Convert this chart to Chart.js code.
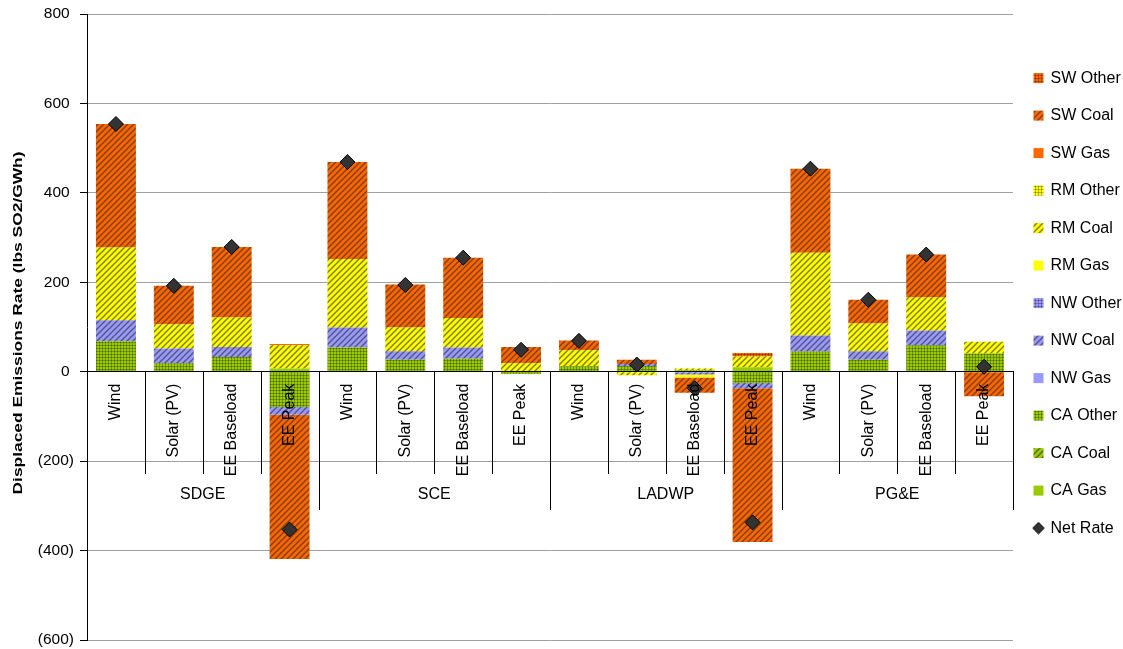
<!DOCTYPE html>
<html>
<head>
<meta charset="utf-8">
<title>Displaced Emissions Rate</title>
<script src="https://cdn.jsdelivr.net/npm/chart.js@4.4.1/dist/chart.umd.min.js"></script>
<style>
  html, body { margin: 0; padding: 0; background: #fff; }
  #wrap { width: 1123px; height: 649px; }
</style>
</head>
<body>
<div id="wrap"><canvas id="chart" width="1123" height="649"></canvas></div>
<script>
// Technology categories, repeated for each utility
const categories = [
  'Wind', 'Solar (PV)', 'EE Baseload', 'EE Peak',
  'Wind', 'Solar (PV)', 'EE Baseload', 'EE Peak',
  'Wind', 'Solar (PV)', 'EE Baseload', 'EE Peak',
  'Wind', 'Solar (PV)', 'EE Baseload', 'EE Peak'
];
const utilities = ['SDGE', 'SCE', 'LADWP', 'PG&E'];

// Displaced SO2 by region and fuel (lbs SO2/GWh)
const caGas   = [0, 0, 0, 7,    0, 0, 0, 0,    0, 0, 0, 10,    0, 0, 0, 0];
const caCoal  = [0, 0, 0, 0,    0, 0, 0, 0,    0, 0, 0, 0,     0, 0, 0, 0];
const caOther = [68, 19, 33, -79,  54, 27, 29, -5,  12, 13, 3, -25,  45, 27, 59, 41];
const nwGas   = [0, 0, 0, 0,    0, 0, 0, 0,    0, 0, 0, 0,     0, 0, 0, 0];
const nwCoal  = [47, 33, 22, -17,  45, 19, 25, 0,  0, 4, -6, -12,  36, 19, 33, 0];
const nwOther = [0, 0, 0, 0,    0, 0, 0, 0,    0, 0, 0, 0,     0, 0, 0, 0];
const rmGas   = [0, 0, 0, 0,    0, 0, 0, 0,    0, 0, -7, 0,    0, 0, 0, 0];
const rmCoal  = [163, 54, 66, 52,  153, 53, 66, 19,  36, -8, 4, 24,  185, 62, 74, 26];
const rmOther = [0, 0, 0, 0,    0, 0, 0, 0,    0, 0, 0, 0,     0, 0, 0, 0];
const swGas   = [0, 0, 0, 3,    0, 0, 0, 0,    0, 0, 0, 0,     0, 0, 0, 0];
const swCoal  = [276, 86, 158, -323,  217, 96, 135, 36,  22, 10, -34, -344,  188, 53, 96, -55];
const swOther = [0, 0, 0, 0,    0, 0, 0, 0,    0, 0, 0, 8,     0, 0, 0, 0];
const netRate = [554, 192, 279, -353,  469, 194, 255, 49,  69, 16, -37, -337,  454, 161, 262, 11];

// Value axis ticks
const yTickValues = [-600, -400, -200, 0, 200, 400, 600, 800];
const yTitle = 'Displaced Emissions Rate (lbs SO2/GWh)';

const FONT = '"Liberation Sans", Arial, Helvetica, sans-serif';
const ORANGE = '#FF6600', YELLOW = '#FFFF00', LAVENDER = '#9999FF', GREEN = '#99CC00';

function makeTile(size, paint) {
  const c = document.createElement('canvas');
  c.width = c.height = size;
  const g = c.getContext('2d');
  paint(g, size);
  return g.createPattern(c, 'repeat');
}
// upward diagonal hatching for coal
function hatch(color) {
  return makeTile(6, (g, s) => {
    g.fillStyle = color;
    g.fillRect(0, 0, s, s);
    g.strokeStyle = 'rgba(40,40,40,0.58)';
    g.lineWidth = 1.5;
    g.beginPath();
    g.moveTo(-1, s + 1); g.lineTo(s + 1, -1);
    g.moveTo(-1, 1); g.lineTo(1, -1);
    g.moveTo(s - 1, s + 1); g.lineTo(s + 1, s - 1);
    g.stroke();
  });
}
// fine dotted grid for other fuels
function dotted(color) {
  return makeTile(3, (g, s) => {
    g.fillStyle = color;
    g.fillRect(0, 0, s, s);
    g.fillStyle = 'rgba(0,0,0,0.26)';
    g.fillRect(0, 0, s, 1);
    g.fillRect(0, 1, 1, s - 1);
    g.fillStyle = 'rgba(0,0,0,0.3)';
    g.fillRect(0, 0, 1, 1);
  });
}

// stacked from the axis outwards: CA, NW, RM, SW
const series = [
  { label: 'CA Gas',   data: caGas,   fill: GREEN },
  { label: 'CA Coal',  data: caCoal,  fill: hatch(GREEN) },
  { label: 'CA Other', data: caOther, fill: dotted(GREEN) },
  { label: 'NW Gas',   data: nwGas,   fill: LAVENDER },
  { label: 'NW Coal',  data: nwCoal,  fill: hatch(LAVENDER) },
  { label: 'NW Other', data: nwOther, fill: dotted(LAVENDER) },
  { label: 'RM Gas',   data: rmGas,   fill: YELLOW },
  { label: 'RM Coal',  data: rmCoal,  fill: hatch(YELLOW) },
  { label: 'RM Other', data: rmOther, fill: dotted(YELLOW) },
  { label: 'SW Gas',   data: swGas,   fill: ORANGE },
  { label: 'SW Coal',  data: swCoal,  fill: hatch(ORANGE) },
  { label: 'SW Other', data: swOther, fill: dotted(ORANGE) }
];

const datasets = series.map(s => ({
  type: 'bar',
  label: s.label,
  data: s.data,
  backgroundColor: s.fill,
  borderWidth: 0,
  stack: 'fuel',
  order: 1,
  barPercentage: 0.69,
  categoryPercentage: 1
}));
datasets.push({
  type: 'line',
  label: 'Net Rate',
  data: netRate,
  showLine: false,
  stack: 'net',
  order: 0,
  pointStyle: 'rectRot',
  pointRadius: 7.5,
  pointHoverRadius: 7.5,
  pointBackgroundColor: '#333333',
  pointBorderColor: '#000000',
  pointBorderWidth: 1,
  backgroundColor: '#333333',
  borderColor: '#000000'
});

// small diamond used as the Net Rate legend symbol
const legendDiamond = (() => {
  const c = document.createElement('canvas');
  c.width = c.height = 13;
  const g = c.getContext('2d');
  g.beginPath();
  g.moveTo(6.5, 0.8); g.lineTo(12.2, 6.5); g.lineTo(6.5, 12.2); g.lineTo(0.8, 6.5);
  g.closePath();
  g.fillStyle = '#333333';
  g.fill();
  g.strokeStyle = '#000';
  g.lineWidth = 1;
  g.stroke();
  return c;
})();

// separators and utility names under the category labels
const groupAxis = {
  id: 'groupAxis',
  afterDraw(chart) {
    const { ctx, scales: { x, y } } = chart;
    const y0 = Math.round(y.getPixelForValue(0));
    const step = x.getPixelForValue(1) - x.getPixelForValue(0);
    const per = categories.length / utilities.length;
    ctx.save();
    ctx.strokeStyle = '#000';
    ctx.lineWidth = 1;
    for (let i = 0; i <= categories.length; i++) {
      const bx = Math.round(x.getPixelForValue(i) - step / 2) + 0.5;
      const len = i % per === 0 ? 138 : 102;
      ctx.beginPath();
      ctx.moveTo(bx, y0);
      ctx.lineTo(bx, y0 + len);
      ctx.stroke();
    }
    ctx.fillStyle = '#000';
    ctx.font = '16px ' + FONT;
    ctx.textAlign = 'center';
    ctx.textBaseline = 'middle';
    utilities.forEach((u, g) => {
      const cx = (x.getPixelForValue(g * per) + x.getPixelForValue(g * per + per - 1)) / 2;
      ctx.fillText(u, cx, y0 + 123);
    });
    ctx.restore();
  }
};

// value-axis title, drawn in a tall bold face along the axis
const valueTitle = {
  id: 'valueTitle',
  afterDraw(chart) {
    const { ctx, chartArea } = chart;
    ctx.save();
    ctx.translate(18, (chartArea.top + chartArea.bottom) / 2 - 4);
    ctx.rotate(-Math.PI / 2);
    ctx.font = 'bold 13px ' + FONT;
    const w = ctx.measureText(yTitle).width;
    ctx.scale(343 / w, 1);
    ctx.fillStyle = '#000';
    ctx.textAlign = 'center';
    ctx.textBaseline = 'middle';
    ctx.fillText(yTitle, 0, 0);
    ctx.restore();
  }
};

Chart.defaults.font.family = FONT;
Chart.defaults.color = '#000';

new Chart(document.getElementById('chart'), {
  type: 'bar',
  data: { labels: categories, datasets },
  plugins: [groupAxis, valueTitle],
  options: {
    responsive: false,
    animation: false,
    events: [],
    layout: { padding: { top: 14, bottom: 9, left: 0, right: 0 } },
    scales: {
      x: {
        type: 'category',
        stacked: true,
        position: { y: 0 },
        grid: { display: false, drawTicks: false },
        border: { display: true, color: '#000', width: 1, z: 1 },
        ticks: {
          z: 1,
          autoSkip: false,
          minRotation: 90,
          maxRotation: 90,
          padding: 12,
          color: '#000',
          font: { size: 16 }
        }
      },
      y: {
        stacked: true,
        min: -600,
        max: 800,
        afterBuildTicks(scale) {
          scale.ticks = yTickValues.map(v => ({ value: v }));
        },
        afterFit(scale) {
          scale.width = 87;
          scale.paddingTop = 0;
          scale.paddingBottom = 0;
        },
        grid: { color: '#a0a0a0', lineWidth: 1, tickColor: '#000', tickLength: 7 },
        border: { color: '#000', width: 1 },
        ticks: {
          padding: 6,
          color: '#000',
          font: { size: 15.5 },
          callback: v => (v < 0 ? '(' + Math.abs(v) + ')' : v + ' ')
        },
        title: { display: false }
      }
    },
    plugins: {
      tooltip: { enabled: false },
      legend: {
        position: 'right',
        align: 'start',
        maxWidth: 110,
        title: { display: true, text: '', font: { size: 12 }, padding: { top: 20.2, bottom: 0 } },
        labels: {
          usePointStyle: true,
          boxWidth: 8,
          boxHeight: 10,
          padding: 21.5,
          color: '#000',
          font: { size: 16 },
          sort: (a, b) => {
            const k = i => (i.datasetIndex === series.length ? 1000 : -i.datasetIndex);
            return k(a) - k(b);
          },
          generateLabels(chart) {
            const items = Chart.defaults.plugins.legend.labels.generateLabels(chart);
            items.forEach(it => {
              if (it.datasetIndex === series.length) {
                it.pointStyle = legendDiamond;
              } else {
                it.pointStyle = 'rect';
                it.lineWidth = 0;
                it.strokeStyle = 'rgba(0,0,0,0)';
              }
            });
            return items;
          }
        }
      }
    }
  }
});
</script>
</body>
</html>
